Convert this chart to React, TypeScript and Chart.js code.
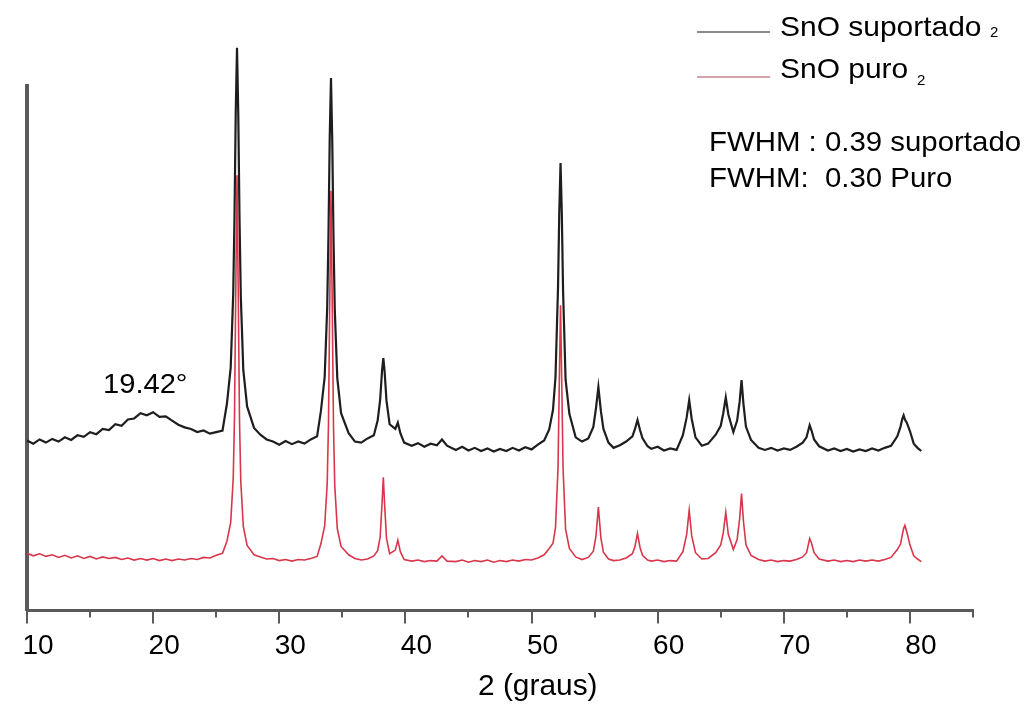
import React, { useEffect, useRef } from 'react';
import { Chart, registerables } from 'chart.js';

Chart.register(...registerables);

// 2θ (degrees) sample positions shared by both patterns
const twoTheta = [
  10, 10.5, 11, 11.5, 12, 12.5, 13, 13.5, 14, 14.5, 15, 15.5, 16, 16.5, 17, 17.5, 18, 18.5, 19, 19.5, 20, 20.5, 21, 21.5, 22, 22.5, 23, 23.5, 24, 24.5, 25, 25.5,
  25.85, 26.15, 26.35, 26.45, 26.55, 26.65, 26.75, 26.85, 26.95, 27.15, 27.45, 28, 28.5, 29, 29.5, 30, 30.5, 31, 31.5, 32, 32.5, 33,
  33.3, 33.6, 33.8, 33.9, 34.0, 34.1, 34.2, 34.3, 34.4, 34.6, 34.9, 35.5, 36, 36.5, 37, 37.5,
  37.8, 38.0, 38.15, 38.25, 38.35, 38.5, 38.75, 39.2, 39.4, 39.6, 39.9, 40.5, 41, 41.5, 42, 42.5, 42.9, 43.3,
  44, 44.5, 45, 45.5, 46, 46.5, 47, 47.5, 48, 48.5, 49, 49.5, 50, 50.5, 51, 51.4,
  51.7, 51.9, 52.1, 52.2, 52.3, 52.4, 52.5, 52.7, 53.0, 53.5, 54, 54.5,
  54.9, 55.1, 55.3, 55.5, 55.7, 56.1, 56.5, 57, 57.5,
  58.0, 58.2, 58.4, 58.6, 58.8, 59.2, 59.5, 60, 60.5, 61, 61.5,
  62.0, 62.3, 62.5, 62.7, 63.0, 63.5, 64, 64.6,
  65.0, 65.2, 65.4, 65.6, 66.0, 66.3, 66.5, 66.65, 66.8, 67.0, 67.4, 68, 68.5, 69, 69.5, 70, 70.5, 71, 71.5,
  71.8, 71.95, 72.05, 72.2, 72.4, 72.8, 73.5, 74, 74.5, 75, 75.5, 76, 76.5, 77, 77.5, 78, 78.5, 79.0,
  79.25, 79.4, 79.5, 79.6, 79.75, 80.0, 80.3, 80.6, 80.9,
];

// SnO2 suportado (black, offset pattern)
const suportado = [
  32.4, 31.8, 32.6, 32.0, 32.7, 32.2, 33.0, 32.5, 33.4, 33.1, 34.0, 33.6, 34.6, 34.4, 35.5, 35.2, 36.4, 36.6, 37.6, 37.2, 37.8, 36.9, 37.0, 36.2, 35.4, 34.9, 34.6, 34.0, 34.3, 33.7, 34.0, 34.3,
  39.4, 46.3, 60.4, 75, 95.2, 107.3, 94.7, 74.5, 59.9, 45.8, 38.9, 34.8, 33.5, 32.6, 32.2, 31.6, 32.3, 31.7, 32.2, 31.8, 32.6, 33.2,
  38, 44.5, 57.7, 71.3, 90.2, 101.5, 89.8, 71, 57.4, 44.3, 37.6, 33.8, 32.2, 32.0, 32.8, 33.4,
  36.2, 40.2, 45.8, 48.1, 45.6, 40, 35.5, 34.6, 35.8, 33.8, 32.0, 31.4, 31.9, 31.2, 31.8, 31.5, 32.6, 31.4,
  30.6, 31.2, 30.5, 31.0, 30.4, 30.9, 30.3, 30.8, 30.4, 31.0, 30.5, 31.1, 30.7, 31.6, 32.4, 34.5,
  38.2, 44.5, 61.5, 76, 85.3, 75.8, 61, 44, 37.5, 33, 32.2, 32.8,
  35, 38.4, 42.6, 38, 34.6, 32.0, 31.0, 31.5, 32.2,
  33.2, 34.6, 36.3, 34.4, 32.8, 31.3, 30.8, 31.2, 30.5, 30.9, 30.6,
  33.4, 36.8, 40.1, 36.5, 33.0, 31.4, 31.8, 33.5,
  35.2, 37.6, 40.6, 37.4, 34, 36.2, 39.8, 43.9, 39.4, 35.0, 32.5, 31.0, 30.6, 31.0, 30.5, 30.9, 30.6, 31.2, 32.0,
  33.0, 34.4, 35.3, 34.3, 32.6, 31.3, 30.5, 30.9, 30.4, 30.8, 30.3, 30.7, 30.4, 30.9, 30.5, 31.0, 31.4, 33.2,
  35.0, 36.6, 37.2, 36.4, 35.8, 34.2, 31.8, 31.0, 30.4,
];

// SnO2 puro (red)
const puro = [
  10.9, 10.4, 10.8, 10.3, 10.6, 10.1, 10.5, 10.0, 10.4, 9.9, 10.3, 9.8, 10.2, 9.9, 10.1, 9.7, 10.0, 9.6, 9.9, 9.6, 9.9, 9.5, 9.8, 9.5, 9.8, 9.6, 9.9, 9.7, 10.1, 10.0, 10.5, 10.9,
  13.2, 16.8, 25.2, 36.7, 60.6, 83, 60, 36, 24.5, 16, 12.4, 10.6, 10.2, 9.8, 9.9, 9.5, 9.7, 9.4, 9.7, 9.6, 9.9, 10.3,
  12.7, 16.1, 24.2, 35.4, 58.5, 80, 58.3, 35, 23.8, 15.6, 12.2, 10.6, 9.9, 9.6, 9.8, 10.4,
  11.4, 14, 20.5, 25.4, 20.3, 13.8, 10.8, 11.5, 13.4, 11.2, 9.7, 9.4, 9.6, 9.3, 9.5, 9.4, 10.4, 9.4,
  9.3, 9.6, 9.2, 9.5, 9.3, 9.6, 9.2, 9.5, 9.3, 9.6, 9.4, 9.7, 9.6, 10.0, 10.6, 11.8,
  12.8, 15.8, 27.2, 43.3, 58.2, 43, 27, 15.5, 11.8, 10.2, 9.7, 10.1,
  11.3, 14.0, 19.7, 13.8, 11.1, 9.8, 9.5, 9.6, 10.0,
  10.8, 12.2, 14.7, 12, 10.5, 9.6, 9.4, 9.6, 9.3, 9.5, 9.4,
  11.2, 14.5, 19.1, 14.2, 11, 9.8, 9.9, 11.0,
  12.5, 14.8, 18.7, 14.5, 11.6, 13.5, 17.5, 22.3, 17, 12.5, 10.5, 9.7, 9.4, 9.6, 9.3, 9.5, 9.4, 9.7, 10.2,
  11.0, 12.6, 13.7, 12.8, 11.0, 9.8, 9.4, 9.6, 9.3, 9.5, 9.3, 9.6, 9.4, 9.6, 9.4, 9.7, 10.1, 11.6,
  12.6, 14.5, 15.6, 16.2, 15.0, 12.5, 10.4, 9.8, 9.3,
];

const seriesNames = ['SnO suportado', 'SnO puro'];
const subscript = '2';
const fwhmLines = ['FWHM : 0.39 suportado', 'FWHM:  0.30 Puro'];
const humpLabel = '19.42°';
const xTitle = '2 (graus)';

const X_MIN = 10;
const X_MAX = 85;
const X_STEP = 5;
const Y_MIN = 0;
const Y_MAX = 100;

const FONT = '"Liberation Sans", Arial, Helvetica, sans-serif';
const BLACK = '#1e1e1e';
const RED = '#d9364b';
const AXIS = '#5a5a5a';

function drawText(ctx: CanvasRenderingContext2D, text: string, x: number, y: number, size: number, sx = 1.07) {
  ctx.save();
  ctx.translate(x, y);
  ctx.scale(sx, 1);
  ctx.font = `${size}px ${FONT}`;
  ctx.fillStyle = '#000';
  ctx.textAlign = 'left';
  ctx.textBaseline = 'alphabetic';
  ctx.fillText(text, 0, 0);
  ctx.restore();
}

const overlayPlugin = {
  id: 'overlay',
  afterDraw(chart: any) {
    const ctx: CanvasRenderingContext2D = chart.ctx;
    const area = chart.chartArea;
    const xs = chart.scales.x;
    ctx.save();
    // tick marks (major at labelled values, minor in between)
    ctx.strokeStyle = AXIS;
    ctx.lineWidth = 2;
    xs.ticks.forEach((t: any) => {
      const px = Math.round(xs.getPixelForValue(t.value));
      const len = t.value % 10 === 0 ? 12 : 6;
      ctx.beginPath();
      ctx.moveTo(px, area.bottom + 1);
      ctx.lineTo(px, area.bottom + 1 + len);
      ctx.stroke();
    });
    // legend
    ctx.lineWidth = 1.5;
    ctx.strokeStyle = '#666';
    ctx.beginPath();
    ctx.moveTo(697, 32);
    ctx.lineTo(770, 32);
    ctx.stroke();
    ctx.strokeStyle = '#c48690';
    ctx.beginPath();
    ctx.moveTo(697, 77);
    ctx.lineTo(770, 77);
    ctx.stroke();
    ctx.restore();

    drawText(ctx, seriesNames[0], 780, 36, 28);
    drawText(ctx, subscript, 990, 37, 15, 1);
    drawText(ctx, seriesNames[1], 780, 78, 28);
    drawText(ctx, subscript, 917, 85, 15, 1);
    drawText(ctx, fwhmLines[0], 709, 151, 28, 1.05);
    drawText(ctx, fwhmLines[1], 709, 187, 28, 1.05);
    drawText(ctx, humpLabel, 103, 393, 28, 1.04);
    drawText(ctx, xTitle, 478, 695, 29, 1.03);
  },
};

export default function App() {
  const canvasRef = useRef<HTMLCanvasElement | null>(null);

  useEffect(() => {
    if (!canvasRef.current) return;
    const chart = new Chart(canvasRef.current, {
      type: 'line',
      data: {
        datasets: [
          {
            label: seriesNames[1],
            data: twoTheta.map((x, i) => ({ x, y: puro[i] })),
            borderColor: RED,
            borderWidth: 1.6,
            pointRadius: 0,
            tension: 0,
            fill: false,
            clip: false as any,
          },
          {
            label: seriesNames[0],
            data: twoTheta.map((x, i) => ({ x, y: suportado[i] })),
            borderColor: BLACK,
            borderWidth: 2.2,
            pointRadius: 0,
            tension: 0,
            fill: false,
            clip: false as any,
          },
        ],
      },
      options: {
        responsive: false,
        animation: false,
        events: [],
        devicePixelRatio: 1,
        layout: { padding: { left: 27, right: 63, top: 86, bottom: 22 } },
        plugins: {
          legend: { display: false },
          tooltip: { enabled: false },
          title: { display: false },
        },
        scales: {
          x: {
            type: 'linear',
            min: X_MIN,
            max: X_MAX,
            grid: { display: false, drawTicks: false, tickLength: 0 },
            border: { display: true, color: AXIS, width: 3 },
            afterFit: (s: any) => {
              s.paddingLeft = 0;
              s.paddingRight = 0;
            },
            ticks: {
              stepSize: X_STEP,
              autoSkip: false,
              maxRotation: 0,
              padding: 19,
              labelOffset: 11,
              color: '#000',
              font: { family: FONT, size: 28 },
              callback: (v: any) => (Number(v) % 10 === 0 ? String(v) : ''),
            },
          },
          y: {
            type: 'linear',
            min: Y_MIN,
            max: Y_MAX,
            grid: { display: false, drawTicks: false, tickLength: 0 },
            border: { display: true, color: AXIS, width: 4 },
            afterFit: (s: any) => {
              s.width = 0;
            },
            ticks: { display: false },
          },
        },
      },
      plugins: [overlayPlugin],
    });
    return () => chart.destroy();
  }, []);

  return (
    <div style={{ position: 'absolute', left: 0, top: 0, width: 1036, height: 704, background: '#fff' }}>
      <canvas ref={canvasRef} width={1036} height={704} style={{ width: 1036, height: 704, display: 'block' }} />
    </div>
  );
}
